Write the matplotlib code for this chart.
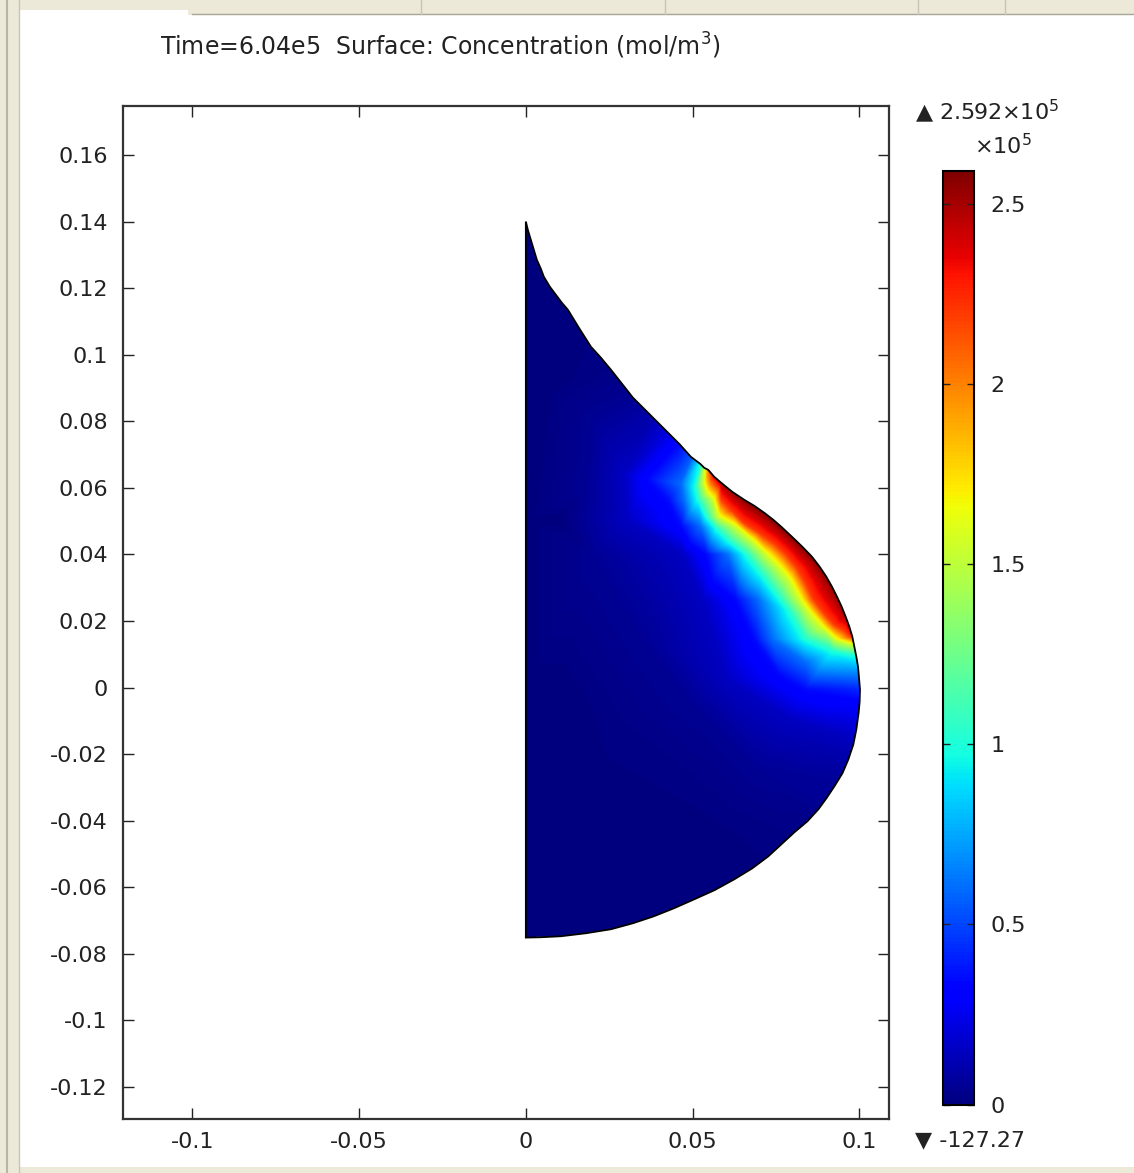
import numpy as np
import matplotlib.pyplot as plt
import matplotlib.tri as mtri
from matplotlib.patches import Polygon, Rectangle
from matplotlib.lines import Line2D

W, H = 1134, 1173

# --- DATA (x, y in m; concentration in 1e5 mol/m^3) ---
# domain outline, clockwise from the top of the symmetry axis
outline_x = [0.0000, 0.0006, 0.0015, 0.0024, 0.0033, 0.0045, 0.0054, 0.0072, 0.0090, 0.0108,
             0.0126, 0.0159, 0.0195, 0.0225, 0.0255, 0.0288, 0.0321, 0.0375, 0.0426, 0.0462,
             0.0495, 0.0523, 0.0535, 0.0547, 0.0565, 0.0586, 0.0619, 0.0655, 0.0685, 0.0715,
             0.0742, 0.0766, 0.0798, 0.0829, 0.0858, 0.0881, 0.0901, 0.0918, 0.0933, 0.0947,
             0.0959, 0.0970, 0.0979, 0.0985, 0.0991, 0.0996, 0.0999, 0.1002, 0.1001, 0.0998,
             0.0991, 0.0982, 0.0967, 0.0949, 0.0925, 0.0901, 0.0877, 0.0844, 0.0805, 0.0766,
             0.0727, 0.0679, 0.0625, 0.0565, 0.0505, 0.0444, 0.0384, 0.0321, 0.0255, 0.0180,
             0.0105, 0.0045, 0.0000]
outline_y = [0.1400, 0.1375, 0.1345, 0.1315, 0.1285, 0.1258, 0.1234, 0.1204, 0.1180, 0.1156,
             0.1135, 0.1081, 0.1024, 0.0991, 0.0955, 0.0913, 0.0871, 0.0817, 0.0766, 0.0730,
             0.0693, 0.0672, 0.0660, 0.0654, 0.0633, 0.0615, 0.0588, 0.0564, 0.0546, 0.0525,
             0.0504, 0.0483, 0.0453, 0.0423, 0.0393, 0.0363, 0.0333, 0.0303, 0.0273, 0.0243,
             0.0213, 0.0183, 0.0153, 0.0123, 0.0093, 0.0063, 0.0030, -0.0006, -0.0042, -0.0075,
             -0.0126, -0.0171, -0.0216, -0.0258, -0.0297, -0.0333, -0.0366, -0.0402, -0.0435, -0.0471,
             -0.0507, -0.0543, -0.0576, -0.0609, -0.0636, -0.0663, -0.0687, -0.0708, -0.0726, -0.0738,
             -0.0747, -0.0750, -0.0751]
outline_c = [0.0, 0.0, 0.0, 0.0, 0.0, 0.0, 0.0, 0.0, 0.0, 0.0,
             0.0, 0.005, 0.01, 0.015, 0.02, 0.03, 0.05, 0.1, 0.22, 0.35,
             0.55, 1.0, 1.6, 2.1, 2.4, 2.5, 2.55, 2.58, 2.59, 2.59,
             2.59, 2.59, 2.59, 2.59, 2.58, 2.57, 2.56, 2.55, 2.54, 2.52,
             2.5, 2.45, 2.3, 1.5, 1.0, 0.8, 0.6, 0.42, 0.32, 0.26,
             0.2, 0.14, 0.1, 0.07, 0.05, 0.04, 0.03, 0.025, 0.02, 0.015,
             0.01, 0.005, 0.0, 0.0, 0.0, 0.0, 0.0, 0.0, 0.0, 0.0,
             0.0, 0.0, 0.0]

# symmetry axis (x = 0) and interior points
axis_y = [0.10, 0.05, 0.0, -0.04]
interior_pts = [(0.005, 0.09, 0.0), (0.01, 0.05, 0.0), (0.01, 0.0, 0.0), (0.02, -0.03, 0.0),
                (0.04, -0.05, 0.0), (0.03, -0.01, 0.02), (0.06, -0.04, 0.01)]

# iso-colour lines
contour_levels = [2.2, 1.6, 1.0, 0.6, 0.35, 0.15, 0.05]
iso_2p2 = [(0.0556, 0.0625), (0.0584, 0.0564), (0.0615, 0.0530), (0.0650, 0.0495),
           (0.0700, 0.0462), (0.0745, 0.0430), (0.0778, 0.0399), (0.0810, 0.0360),
           (0.0836, 0.0315), (0.0860, 0.0264), (0.0890, 0.0225), (0.0920, 0.0190),
           (0.0955, 0.0168)]
iso_1p6 = [(0.0533, 0.0609), (0.0542, 0.0585), (0.0562, 0.0564), (0.0578, 0.0513),
           (0.0630, 0.0483), (0.0675, 0.0445), (0.0722, 0.0399), (0.0760, 0.0360),
           (0.0789, 0.0325), (0.0822, 0.0264), (0.0850, 0.0225), (0.0886, 0.0183),
           (0.0928, 0.0144)]
iso_1p0 = [(0.0506, 0.0600), (0.0514, 0.0564), (0.0540, 0.0510), (0.0570, 0.0475),
           (0.0612, 0.0435), (0.0658, 0.0399), (0.0700, 0.0345), (0.0752, 0.0275),
           (0.0789, 0.0225), (0.0835, 0.0144), (0.0919, 0.0108)]
iso_0p6 = [(0.0464, 0.0612), (0.0472, 0.0564), (0.0522, 0.0483), (0.0602, 0.0399),
           (0.0694, 0.0264), (0.0738, 0.0144), (0.0837, 0.0075)]
iso_0p35 = [(0.0368, 0.0625), (0.0426, 0.0560), (0.0466, 0.0483), (0.0540, 0.0399),
            (0.0630, 0.0264), (0.0687, 0.0140), (0.0760, 0.0040), (0.0837, -0.0006)]
iso_0p15 = [(0.0290, 0.0640), (0.0300, 0.0504), (0.0466, 0.0399), (0.0526, 0.0264),
            (0.0600, 0.0024), (0.0789, -0.0096), (0.0940, -0.0140)]
iso_0p05 = [(0.020, 0.080), (0.018, 0.060), (0.020, 0.040), (0.035, 0.015),
            (0.050, -0.005), (0.070, -0.025), (0.088, -0.034)]
contour_pts = [iso_2p2, iso_1p6, iso_1p0, iso_0p6, iso_0p35, iso_0p15, iso_0p05]

c_min, c_max = -127.27e-5, 2.592
cbar_ticks = [0, 0.5, 1, 1.5, 2, 2.5]
cbar_labels = ['0', '0.5', '1', '1.5', '2', '2.5']
x_ticks = [-0.1, -0.05, 0, 0.05, 0.1]
x_labels = ['-0.1', '-0.05', '0', '0.05', '0.1']
y_ticks = [0.16, 0.14, 0.12, 0.1, 0.08, 0.06, 0.04, 0.02, 0, -0.02, -0.04, -0.06,
           -0.08, -0.1, -0.12]
y_labels = ['0.16', '0.14', '0.12', '0.1', '0.08', '0.06', '0.04', '0.02', '0', '-0.02',
            '-0.04', '-0.06', '-0.08', '-0.1', '-0.12']

# --- collect samples ---
sx = list(outline_x) + [0.0] * len(axis_y)
sy = list(outline_y) + list(axis_y)
sc = list(outline_c) + [0.0] * len(axis_y)
for p in interior_pts:
    sx.append(p[0]); sy.append(p[1]); sc.append(p[2])
for lev, pts in zip(contour_levels, contour_pts):
    for p in pts:
        sx.append(p[0]); sy.append(p[1]); sc.append(lev)

tri = mtri.Triangulation(sx, sy)
tri.set_mask(mtri.TriAnalyzer(tri).get_flat_tri_mask(0.01))
interp = mtri.LinearTriInterpolator(tri, sc)
gx = np.linspace(0, 0.1005, 600)
gy = np.linspace(-0.0752, 0.1402, 1300)
GX, GY = np.meshgrid(gx, gy)
Z = interp(GX, GY)


def fx(px):
    return px / W


def fy(py):
    return 1 - py / H


fig = plt.figure(figsize=(W / 100, H / 100), dpi=100)
fig.patch.set_facecolor('white')

# window chrome of the screenshot
beige = '#ece9d8'
fig.add_artist(Rectangle((0, 0), fx(20), 1, transform=fig.transFigure, fc=beige, ec='none'))
fig.add_artist(Rectangle((0, fy(1173)), 1, fy(1167) - fy(1173), transform=fig.transFigure,
                         fc=beige, ec='none'))
fig.add_artist(Rectangle((0, fy(10)), 1, 10 / H, transform=fig.transFigure, fc=beige, ec='none'))
fig.add_artist(Rectangle((fx(188), fy(15)), 1, 5 / H, transform=fig.transFigure, fc=beige, ec='none'))
fig.add_artist(Line2D([fx(192), 1], [fy(14), fy(14)], transform=fig.transFigure, color='#a8a597', lw=1))
for xs in [421, 665, 918, 1005]:
    fig.add_artist(Line2D([fx(xs), fx(xs)], [fy(0), fy(14)], transform=fig.transFigure,
                          color='#c8c5b8', lw=1))
fig.add_artist(Line2D([fx(7), fx(7)], [0, 1], transform=fig.transFigure, color='#b8b5a6', lw=1.5))
fig.add_artist(Line2D([fx(19), fx(19)], [0, 1], transform=fig.transFigure, color='#c8c5b8', lw=1))

ax = fig.add_axes([fx(123), fy(1119), 766 / W, 1013 / H])
ax.set_xlim(-0.1208, 0.1089)
ax.set_ylim(-0.1296, 0.1747)

im = ax.imshow(Z, extent=[gx[0], gx[-1], gy[0], gy[-1]], origin='lower', cmap='jet',
               vmin=c_min, vmax=c_max, interpolation='bilinear', aspect='auto')
shape = Polygon(np.column_stack([outline_x, outline_y]), closed=True, fc='none',
                ec='black', lw=1.3, zorder=3)
ax.add_patch(shape)
im.set_clip_path(shape)

ax.set_xticks(x_ticks)
ax.set_xticklabels(x_labels)
ax.set_yticks(y_ticks)
ax.set_yticklabels(y_labels)
ax.tick_params(direction='in', length=8, width=1, top=True, right=True,
               labelsize=16, colors='#222222')
ax.tick_params(axis='x', pad=9)
ax.tick_params(axis='y', pad=11)
for s in ax.spines.values():
    s.set_linewidth(1.6)
    s.set_color('#333333')

cax = fig.add_axes([fx(943), fy(1105), 31 / W, 934 / H])
cb = fig.colorbar(im, cax=cax, ticks=cbar_ticks)
cb.ax.set_yticklabels(cbar_labels)
cb.outline.set_linewidth(1.5)
cax.tick_params(direction='in', length=5, width=1, left=True, right=True,
                labelsize=16, pad=12, colors='#222222')

fig.text(fx(160), fy(46), 'Time=6.04e5  Surface: Concentration (mol/m$^{3}$)',
         fontsize=17, va='center', color='#222222')
fig.text(fx(915), fy(111), '\u25b2 2.592\u00d710$^{5}$', fontsize=16, va='center', color='#222222')
fig.text(fx(974), fy(146), '\u00d710$^{5}$', fontsize=16, va='center', color='#222222')
fig.text(fx(915), fy(1140), '\u25bc -127.27', fontsize=16, va='center', color='#222222')

fig.savefig('out.png', dpi=100)
